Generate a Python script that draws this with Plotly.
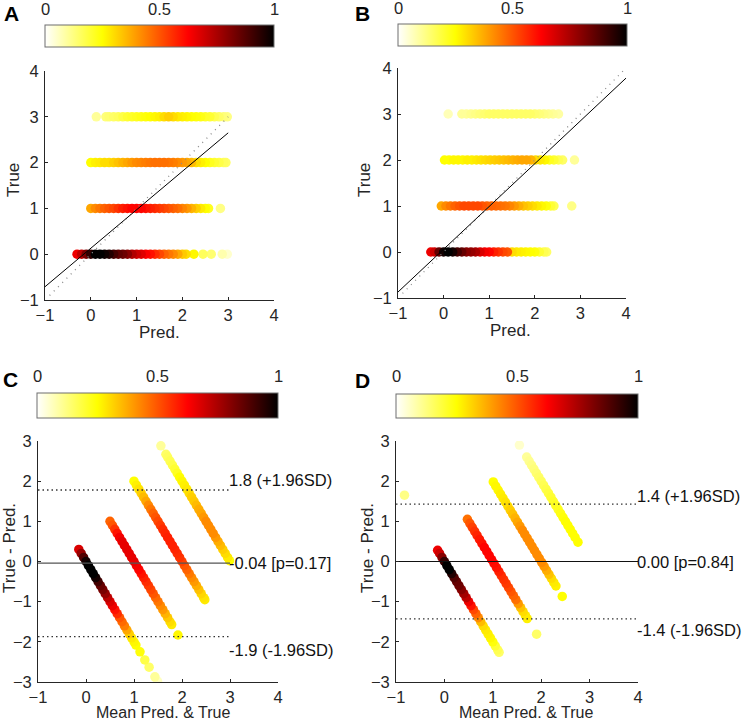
import plotly.graph_objects as go

# ---------------- data ----------------
TRUE_LEVELS = [0, 1, 2, 3]

# Panel A (model 1): predicted values per true level and point-density colour (0..1)
A_pred_t0 = [-0.3,-0.2,-0.1,0.0,0.1,0.2,0.3,0.4,0.5,0.6,0.7,0.8,0.9,1.0,1.1,1.2,1.3,1.4,1.5,1.6,1.7,1.8,1.9,2.0,2.08,2.25,2.45,2.63,2.87,2.98]
A_dens_t0 = [0.65,0.72,0.82,0.93,1.0,1.0,0.98,0.95,0.9,0.86,0.84,0.8,0.74,0.7,0.67,0.63,0.6,0.56,0.52,0.48,0.45,0.42,0.38,0.33,0.3,0.26,0.16,0.14,0.08,0.05]
A_pred_t1 = [0.0,0.1,0.2,0.3,0.4,0.5,0.6,0.7,0.8,0.9,1.0,1.1,1.2,1.3,1.4,1.5,1.6,1.7,1.8,1.9,2.0,2.1,2.2,2.3,2.4,2.5,2.57,2.83]
A_dens_t1 = [0.38,0.42,0.45,0.48,0.5,0.52,0.55,0.58,0.6,0.62,0.62,0.62,0.6,0.58,0.56,0.54,0.52,0.5,0.48,0.46,0.43,0.4,0.36,0.32,0.28,0.25,0.22,0.12]
A_pred_t2 = [0.0,0.1,0.2,0.3,0.4,0.5,0.6,0.7,0.8,0.9,1.0,1.1,1.2,1.3,1.4,1.5,1.6,1.7,1.8,1.9,2.0,2.1,2.2,2.3,2.4,2.5,2.6,2.7,2.8,2.9,2.95]
A_dens_t2 = [0.25,0.27,0.28,0.3,0.3,0.32,0.34,0.36,0.38,0.4,0.42,0.43,0.44,0.45,0.46,0.46,0.46,0.45,0.44,0.42,0.4,0.38,0.35,0.3,0.27,0.25,0.22,0.2,0.18,0.16,0.15]
A_pred_t3 = [0.12,0.33,0.4,0.5,0.6,0.7,0.8,0.9,1.0,1.1,1.2,1.3,1.4,1.5,1.6,1.7,1.8,1.9,2.0,2.1,2.2,2.3,2.4,2.5,2.6,2.7,2.8,2.9,2.98]
A_dens_t3 = [0.1,0.13,0.14,0.15,0.16,0.18,0.2,0.21,0.22,0.23,0.24,0.25,0.26,0.27,0.3,0.32,0.3,0.28,0.27,0.26,0.25,0.24,0.23,0.21,0.2,0.17,0.15,0.13,0.12]

# Panel C (Bland-Altman of model 1): density colour for the same points
C_dens_t0 = [0.68,0.78,0.88,0.97,1.0,1.0,1.0,0.97,0.9,0.85,0.82,0.78,0.72,0.68,0.65,0.6,0.56,0.5,0.47,0.44,0.38,0.32,0.28,0.26,0.25,0.24,0.18,0.15,0.1,0.06]
C_dens_t1 = [0.48,0.5,0.55,0.6,0.64,0.66,0.66,0.66,0.66,0.66,0.66,0.64,0.62,0.6,0.58,0.56,0.54,0.52,0.5,0.47,0.45,0.42,0.4,0.36,0.33,0.3,0.28,0.26]
C_dens_t2 = [0.25,0.27,0.29,0.32,0.35,0.38,0.42,0.45,0.48,0.5,0.52,0.54,0.56,0.57,0.58,0.58,0.58,0.57,0.56,0.55,0.53,0.5,0.48,0.45,0.42,0.4,0.37,0.34,0.31,0.29,0.28]
C_dens_t3 = [0.1,0.15,0.16,0.17,0.18,0.2,0.22,0.25,0.26,0.27,0.28,0.3,0.32,0.33,0.35,0.37,0.38,0.4,0.42,0.42,0.42,0.42,0.4,0.37,0.35,0.32,0.3,0.28,0.25]

# Panel B (model 2)
B_pred_t0 = [-1.65,-0.28,-0.2,-0.1,0.0,0.1,0.2,0.3,0.4,0.5,0.6,0.7,0.8,0.9,1.0,1.1,1.2,1.3,1.4,1.5,1.6,1.7,1.8,1.9,2.0,2.1,2.2,2.26]
B_dens_t0 = [0.12,0.65,0.7,0.85,0.97,1.0,0.97,0.9,0.85,0.8,0.78,0.75,0.68,0.64,0.62,0.58,0.55,0.52,0.5,0.3,0.28,0.27,0.26,0.25,0.24,0.2,0.17,0.15]
B_pred_t1 = [-0.05,0.05,0.15,0.25,0.35,0.45,0.55,0.65,0.75,0.85,0.95,1.05,1.15,1.25,1.35,1.45,1.55,1.65,1.75,1.85,1.95,2.05,2.15,2.25,2.35,2.42,2.81]
B_dens_t1 = [0.38,0.42,0.45,0.48,0.5,0.52,0.52,0.52,0.52,0.5,0.48,0.48,0.47,0.46,0.45,0.43,0.4,0.37,0.34,0.32,0.3,0.28,0.26,0.24,0.2,0.17,0.12]
B_pred_t2 = [0.02,0.12,0.22,0.32,0.42,0.52,0.62,0.72,0.82,0.92,1.02,1.12,1.22,1.32,1.42,1.52,1.62,1.72,1.82,1.92,2.02,2.12,2.22,2.32,2.42,2.52,2.61,2.87]
B_dens_t2 = [0.25,0.25,0.26,0.26,0.26,0.27,0.27,0.28,0.29,0.3,0.31,0.32,0.33,0.34,0.35,0.36,0.37,0.38,0.38,0.36,0.3,0.28,0.26,0.22,0.2,0.17,0.15,0.1]
B_pred_t3 = [0.1,0.4,0.5,0.6,0.7,0.8,0.9,1.0,1.1,1.2,1.3,1.4,1.5,1.6,1.7,1.8,1.9,2.0,2.1,2.2,2.3,2.4,2.52]
B_dens_t3 = [0.07,0.1,0.1,0.11,0.12,0.13,0.14,0.15,0.15,0.15,0.15,0.15,0.15,0.15,0.15,0.15,0.15,0.14,0.13,0.12,0.11,0.1,0.09]

# Panel D (Bland-Altman of model 2)
D_dens_t0 = [0.12,0.65,0.7,0.8,0.92,1.0,1.0,0.95,0.88,0.85,0.84,0.8,0.76,0.72,0.65,0.6,0.52,0.48,0.42,0.35,0.3,0.28,0.27,0.26,0.24,0.2,0.17,0.15]
D_dens_t1 = [0.46,0.5,0.53,0.55,0.57,0.59,0.6,0.62,0.62,0.62,0.62,0.61,0.6,0.58,0.56,0.55,0.54,0.52,0.5,0.48,0.46,0.4,0.34,0.3,0.28,0.27,0.15]
D_dens_t2 = [0.25,0.26,0.26,0.27,0.28,0.29,0.3,0.32,0.34,0.36,0.38,0.4,0.42,0.42,0.42,0.42,0.42,0.42,0.42,0.42,0.42,0.4,0.37,0.34,0.3,0.28,0.27,0.25]
D_dens_t3 = [0.05,0.1,0.11,0.12,0.13,0.14,0.15,0.16,0.17,0.18,0.19,0.2,0.21,0.22,0.22,0.23,0.24,0.25,0.25,0.25,0.25,0.25,0.25]

# regression fits and identity-line extents
A_fit = {"slope": 0.84, "intercept": 0.13, "x": [-1.0, 3.0]}
B_fit = {"slope": 0.93, "intercept": 0.06, "x": [-1.0, 4.0]}
A_identity_x = [-0.9, 3.0]
B_identity_x = [-0.9, 3.95]

# Bland-Altman statistics
C_stats = {"mean": -0.04, "upper": 1.78, "lower": -1.87, "x": [-1.0, 3.0],
           "labels": ["-0.04 [p=0.17]", "1.8 (+1.96SD)", "-1.9 (-1.96SD)"]}
D_stats = {"mean": 0.00, "upper": 1.43, "lower": -1.43, "x": [-1.0, 4.0],
           "labels": ["0.00 [p=0.84]", "1.4 (+1.96SD)", "-1.4 (-1.96SD)"]}

COLORBAR_TICKS = ["0", "0.5", "1"]

# ---------------- helpers ----------------
W, H = 742, 722
FONT = "Liberation Sans, Arial, sans-serif"
TXT = "#262626"
HOT_R = [[0.0, "rgb(255,255,255)"], [0.25, "rgb(255,255,0)"],
         [0.625, "rgb(255,0,0)"], [1.0, "rgb(0,0,0)"]]


def px_x(p):
    return p / W


def px_y(p):
    return 1 - p / H


def gather(preds, dens, ba=False):
    xs, ys, cs = [], [], []
    for t, pr, de in zip(TRUE_LEVELS, preds, dens):
        assert len(pr) == len(de)
        for p, d in zip(pr, de):
            if ba:
                xs.append((p + t) / 2.0)
                ys.append(t - p)
            else:
                xs.append(p)
                ys.append(t)
            cs.append(d)
    order = sorted(range(len(cs)), key=lambda i: cs[i])
    return [xs[i] for i in order], [ys[i] for i in order], [cs[i] for i in order]


A_preds = [A_pred_t0, A_pred_t1, A_pred_t2, A_pred_t3]
B_preds = [B_pred_t0, B_pred_t1, B_pred_t2, B_pred_t3]
panels = [
    gather(A_preds, [A_dens_t0, A_dens_t1, A_dens_t2, A_dens_t3]),
    gather(B_preds, [B_dens_t0, B_dens_t1, B_dens_t2, B_dens_t3]),
    gather(A_preds, [C_dens_t0, C_dens_t1, C_dens_t2, C_dens_t3], ba=True),
    gather(B_preds, [D_dens_t0, D_dens_t1, D_dens_t2, D_dens_t3], ba=True),
]

# pixel geometry: plot boxes (x0, x1, ytop, ybottom) and colourbars (x0, x1, ytop, ybottom)
boxes = [(45, 274, 71, 300), (398, 626, 68, 298), (38, 278, 441, 682), (396, 638, 441, 682)]
cbars = [(45, 274, 25, 47), (398, 627, 24, 46), (37, 278, 393, 418), (396, 638, 394, 418)]
cbar_label_y = [9, 8, 376, 376]
yranges = [[-1, 4], [-1, 4], [-3, 3], [-3, 3]]

fig = go.Figure()
layout = dict(width=W, height=H, margin=dict(l=0, r=0, t=0, b=0, pad=0, autoexpand=False),
              paper_bgcolor="white", plot_bgcolor="white", showlegend=False,
              font=dict(family=FONT, size=16, color=TXT))
annotations = []

for i, ((xs, ys, cs), box, cb) in enumerate(zip(panels, boxes, cbars)):
    n = "" if i == 0 else str(i + 1)
    ca = "coloraxis" + n
    fig.add_trace(go.Scatter(
        x=xs, y=ys, mode="markers", xaxis="x" + n, yaxis="y" + n,
        marker=dict(size=9.5, color=cs, coloraxis=ca, line=dict(width=0)),
        hoverinfo="skip"))
    x0, x1, yt, yb = box
    axis_common = dict(showgrid=False, zeroline=False, showline=True, linecolor=TXT,
                       linewidth=1, ticks="inside", ticklen=3, tickcolor=TXT,
                       tickfont=dict(family=FONT, size=16.5, color=TXT), dtick=1,
                       fixedrange=True)
    layout["xaxis" + n] = dict(domain=[px_x(x0), px_x(x1)], range=[-1, 4],
                               anchor="y" + n, tick0=-1, **axis_common)
    layout["yaxis" + n] = dict(domain=[px_y(yb), px_y(yt)], range=yranges[i],
                               anchor="x" + n, ticklabelstandoff=2, **axis_common)
    cx0, cx1, cyt, cyb = cb
    layout[ca] = dict(cmin=0, cmax=1, colorscale=HOT_R, colorbar=dict(
        orientation="h", x=px_x((cx0 + cx1) / 2), xanchor="center",
        y=px_y(cyt), yanchor="top", lenmode="pixels", len=cx1 - cx0,
        thicknessmode="pixels", thickness=cyb - cyt, outlinewidth=1,
        outlinecolor="#6e6e6e", showticklabels=False, ticks="", xpad=0, ypad=0))
    for lab, frac in zip(COLORBAR_TICKS, [0.0, 0.5, 1.0]):
        annotations.append(dict(text=lab, xref="paper", yref="paper",
                                x=px_x(cx0 + frac * (cx1 - cx0)), y=px_y(cbar_label_y[i]),
                                xanchor="center", yanchor="middle", showarrow=False,
                                font=dict(size=16.5, color=TXT)))

# regression + identity lines (A, B)
for n, fit, idx in [("", A_fit, A_identity_x), ("2", B_fit, B_identity_x)]:
    fig.add_trace(go.Scatter(x=idx, y=idx, mode="lines", xaxis="x" + n, yaxis="y" + n,
                             line=dict(color="#8c8c8c", width=1.3, dash="1px,5px"),
                             hoverinfo="skip"))
    fx = fit["x"]
    fy = [fit["intercept"] + fit["slope"] * v for v in fx]
    fig.add_trace(go.Scatter(x=fx, y=fy, mode="lines", xaxis="x" + n, yaxis="y" + n,
                             line=dict(color="black", width=1), hoverinfo="skip"))

# Bland-Altman lines (C, D)
for n, st, mcol, shifts in [("3", C_stats, "#555555", (10, -13)),
                            ("4", D_stats, "#111111", (8, -11))]:
    lx = st["x"]
    fig.add_trace(go.Scatter(x=lx, y=[st["mean"]] * 2, mode="lines", xaxis="x" + n,
                             yaxis="y" + n, line=dict(color=mcol, width=1.1),
                             hoverinfo="skip"))
    for key in ("upper", "lower"):
        fig.add_trace(go.Scatter(x=lx, y=[st[key]] * 2, mode="lines", xaxis="x" + n,
                                 yaxis="y" + n,
                                 line=dict(color="#333333", width=1.3, dash="1.5px,3px"),
                                 hoverinfo="skip"))
    for lab, yv, ys in zip(st["labels"], [st["mean"], st["upper"], st["lower"]],
                           [0, shifts[0], shifts[1]]):
        annotations.append(dict(text=lab, xref="x" + n, yref="y" + n, x=lx[1], y=yv,
                                xanchor="left", yanchor="middle", yshift=ys, xshift=-3,
                                showarrow=False, font=dict(size=16.5, color="#111111")))

# axis titles
titles = [("Pred.", 159, 332, 0, 17), ("True", 13, 180, -90, 17),
          ("Pred.", 511, 331, 0, 17), ("True", 364, 180, -90, 17),
          ("Mean Pred. & True", 163, 712, 0, 16), ("True - Pred.", 9, 548, -90, 17),
          ("Mean Pred. & True", 526, 712, 0, 16), ("True - Pred.", 367, 548, -90, 17)]
for text, x, y, ang, fs in titles:
    annotations.append(dict(text=text, xref="paper", yref="paper", x=px_x(x), y=px_y(y),
                            xanchor="center", yanchor="middle", textangle=ang,
                            borderpad=0, showarrow=False, font=dict(size=fs, color=TXT)))

# panel letters
for text, x, y in [("A", 11, 13), ("B", 362, 13), ("C", 10, 379), ("D", 362, 381)]:
    annotations.append(dict(text="<b>%s</b>" % text, xref="paper", yref="paper",
                            x=px_x(x), y=px_y(y), xanchor="center", yanchor="middle",
                            showarrow=False, font=dict(size=21, color="black")))

layout["annotations"] = annotations
fig.update_layout(**layout)
fig.write_html("out.html", config={"displayModeBar": False},
               post_script="document.body.style.margin='0px';"
                           "document.body.style.overflow='hidden';")
